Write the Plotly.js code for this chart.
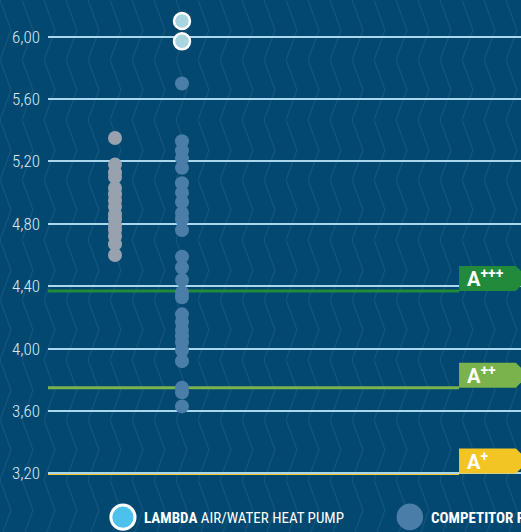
<!DOCTYPE html>
<html>
<head>
<meta charset="utf-8">
<script src="https://cdn.plot.ly/plotly-3.0.1.min.js"></script>
<style>
html,body{margin:0;padding:0;}
body{width:521px;height:532px;overflow:hidden;background-color:#034870;
background-image:url("data:image/svg+xml;utf8,<svg xmlns='http://www.w3.org/2000/svg' width='22' height='60'><polyline points='0,0 11,30 0,60' fill='none' stroke='rgba(255,255,255,0.07)' stroke-width='1.2'/></svg>");}
#chart{width:521px;height:532px;}
</style>
</head>
<body>
<div id="chart"></div>
<script>
// ---- data ----
var columns = ['Group A', 'Group B'];
var otherValues = [5.35, 5.18, 5.13, 5.10, 5.03, 4.99, 4.95, 4.91, 4.86, 4.83, 4.79, 4.76, 4.72, 4.67, 4.60];
var competitorValues = [5.70, 5.33, 5.27, 5.22, 5.16, 5.06, 5.00, 4.94, 4.87, 4.83, 4.76, 4.59, 4.52, 4.44, 4.36, 4.33, 4.22, 4.17, 4.12, 4.08, 4.04, 3.99, 3.92, 3.75, 3.72, 3.63];
var lambdaValues = [6.10, 5.97];
var energyClasses = ['A+', 'A++', 'A+++'];
var energyLabels = ['A<sup>+</sup>', 'A<sup>++</sup>', 'A<sup>+++</sup>'];
var energyThresholds = [3.20, 3.75, 4.37];
var energyColors = ['#f3c524', '#7ab24b', '#218a3b'];
var tickValues = [3.2, 3.6, 4.0, 4.4, 4.8, 5.2, 5.6, 6.0];
var legendNames = ['LAMBDA', ' AIR/WATER HEAT PUMP', 'COMPETITOR PRODUCTS'];

var condensed = '"Roboto Condensed", "DejaVu Sans Condensed", "Liberation Sans Narrow", "Arial Narrow", sans-serif';

function rep(v, n) { var a = []; for (var i = 0; i < n; i++) a.push(v); return a; }

var traces = [
  {type: 'scatter', mode: 'markers', name: 'Other', x: rep(columns[0], otherValues.length), y: otherValues,
   marker: {size: 14, color: '#98a2af'}, hoverinfo: 'skip', cliponaxis: false},
  {type: 'scatter', mode: 'markers', name: legendNames[2], x: rep(columns[1], competitorValues.length), y: competitorValues,
   marker: {size: 14, color: '#4a7ea8'}, hoverinfo: 'skip', cliponaxis: false},
  {type: 'scatter', mode: 'markers', name: legendNames[0] + legendNames[1], x: rep(columns[1], lambdaValues.length), y: lambdaValues,
   marker: {size: 16, color: '#a8d5df', line: {color: '#ffffff', width: 2.5}}, hoverinfo: 'skip', cliponaxis: false}
];

var boxH = 0.16;
var shapes = [];
var annotations = [];
for (var i = 0; i < energyClasses.length; i++) {
  var t = energyThresholds[i];
  shapes.push({type: 'line', xref: 'paper', yref: 'y', x0: 0, x1: 0.869, y0: t, y1: t,
    line: {color: energyColors[i], width: 3}, layer: 'between'});
  shapes.push({type: 'path', xref: 'paper', yref: 'y', layer: 'above', line: {width: 0},
    fillcolor: energyColors[i],
    path: 'M 0.869 ' + t + ' L 0.869 ' + (t + boxH) + ' L 0.989 ' + (t + boxH) +
          ' L 1.016 ' + (t + boxH / 2) + ' L 0.989 ' + t + ' Z'});
  annotations.push({xref: 'paper', yref: 'y', x: 0.882, y: t + boxH / 2, xanchor: 'left', yanchor: 'middle',
    text: '<b>' + energyLabels[i] + '</b>', showarrow: false,
    font: {family: 'Roboto, Arial, sans-serif', size: 20, color: '#ffffff'}});
}
// legend (drawn manually to get large symbols)
shapes.push({type: 'circle', xref: 'paper', yref: 'paper', x0: 0.133, x1: 0.184, y0: -0.031, y1: -0.081,
  fillcolor: '#4cc1ec', line: {color: '#ffffff', width: 3}});
shapes.push({type: 'circle', xref: 'paper', yref: 'paper', x0: 0.737, x1: 0.793, y0: -0.028, y1: -0.083,
  fillcolor: '#4a7ea8', line: {width: 0}});
annotations.push({xref: 'paper', yref: 'paper', x: 0.198, y: -0.058, xanchor: 'left', yanchor: 'middle', showarrow: false,
  text: '<b>' + legendNames[0] + '</b>' + legendNames[1],
  font: {family: condensed, size: 15, color: '#ffffff'}});
annotations.push({xref: 'paper', yref: 'paper', x: 0.805, y: -0.058, xanchor: 'left', yanchor: 'middle', showarrow: false,
  text: '<b>' + legendNames[2] + '</b>',
  font: {family: condensed, size: 15, color: '#ffffff'}});

var layout = {
  width: 521, height: 532,
  margin: {l: 48, r: 0, t: 5, b: 42, pad: 0},
  paper_bgcolor: 'rgba(0,0,0,0)', plot_bgcolor: 'rgba(0,0,0,0)',
  showlegend: false,
  separators: ',.',
  xaxis: {type: 'category', range: [-1, 6.06], showgrid: false, zeroline: false, showticklabels: false, ticks: '', showline: false, fixedrange: true},
  yaxis: {range: [3.094, 6.203], tickvals: tickValues, tickformat: '.2f', showgrid: true, gridcolor: '#a9d8ec', gridwidth: 2,
    zeroline: false, showline: false, ticks: '', ticklabelstandoff: 7,
    tickfont: {family: condensed, size: 17, weight: 300, color: '#dbe8f1'}, fixedrange: true},
  shapes: shapes,
  annotations: annotations
};

Plotly.newPlot('chart', traces, layout, {displayModeBar: false, staticPlot: true});
</script>
</body>
</html>
